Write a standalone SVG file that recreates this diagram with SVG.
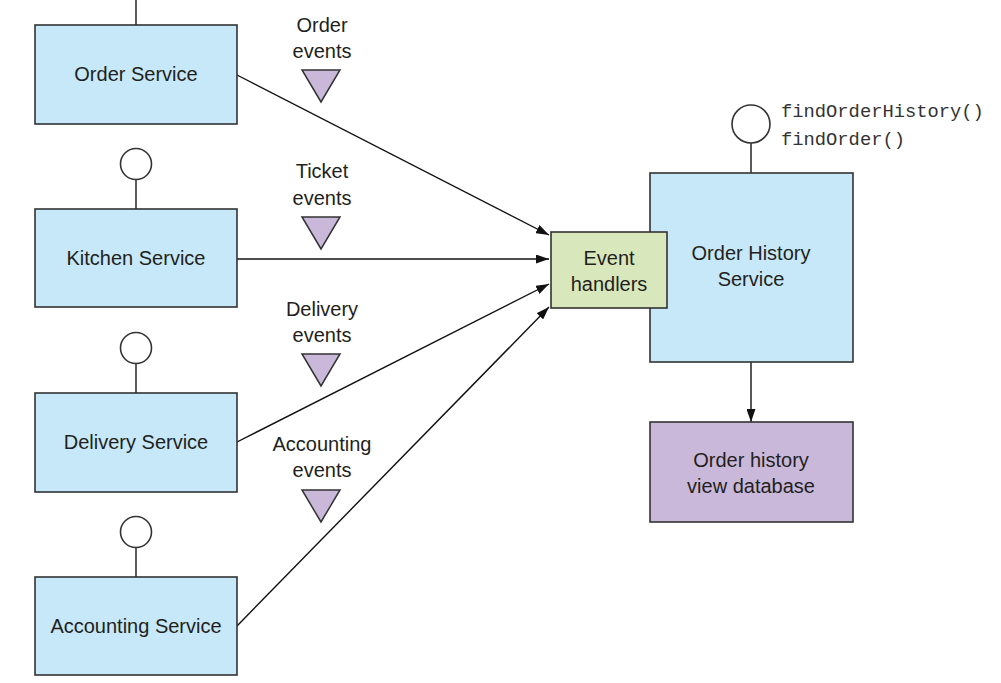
<svg xmlns="http://www.w3.org/2000/svg" width="1001" height="683" viewBox="0 0 1001 683">
<style>
.svc{fill:#c6e8f8;stroke:#333;stroke-width:1.6}
.eh{fill:#d9e7bc;stroke:#333;stroke-width:1.6}
.db{fill:#c9b8da;stroke:#333;stroke-width:1.6}
.tri{fill:#c9b8da;stroke:#333;stroke-width:1.5;stroke-linejoin:miter}
.ifc{fill:#fff;stroke:#333;stroke-width:1.6}
.stem{stroke:#333;stroke-width:1.6;fill:none}
.conn{stroke:#111;stroke-width:1.4;fill:none}
.t{font-family:"Liberation Sans",Arial,sans-serif;font-size:20px;fill:#231f20;text-anchor:middle}
.m{font-family:"Liberation Mono","Courier New",monospace;font-size:18.8px;fill:#333}
</style>
<defs>
<marker id="arr" viewBox="0 0 13 9" refX="13" refY="4.5" markerWidth="13" markerHeight="9" markerUnits="userSpaceOnUse" orient="auto">
<path d="M0,0 L13,4.5 L0,9 z" fill="#111"/>
</marker>
</defs>
<rect width="1001" height="683" fill="#fff"/>

<g id="connectors">
<line class="conn" x1="237" y1="75" x2="549" y2="235" marker-end="url(#arr)"/>
<line class="conn" x1="237" y1="259" x2="549" y2="259" marker-end="url(#arr)"/>
<line class="conn" x1="237" y1="442" x2="549" y2="284" marker-end="url(#arr)"/>
<line class="conn" x1="237" y1="626" x2="549" y2="307" marker-end="url(#arr)"/>
<line class="conn" x1="751" y1="362" x2="751" y2="422" marker-end="url(#arr)"/>
</g>

<g id="order-service">
<line class="stem" x1="136" y1="0" x2="136" y2="25"/>
<rect class="svc" x="35" y="25" width="202" height="99"/>
<text class="t" x="136" y="81">Order Service</text>
</g>

<g id="kitchen-service">
<circle class="ifc" cx="136" cy="164" r="15.5"/>
<line class="stem" x1="136" y1="179.5" x2="136" y2="209"/>
<rect class="svc" x="35" y="209" width="202" height="98"/>
<text class="t" x="136" y="265">Kitchen Service</text>
</g>

<g id="delivery-service">
<circle class="ifc" cx="136" cy="348" r="15.5"/>
<line class="stem" x1="136" y1="363.5" x2="136" y2="393"/>
<rect class="svc" x="35" y="393" width="202" height="99"/>
<text class="t" x="136" y="449">Delivery Service</text>
</g>

<g id="accounting-service">
<circle class="ifc" cx="136" cy="532" r="15.5"/>
<line class="stem" x1="136" y1="547.5" x2="136" y2="577"/>
<rect class="svc" x="35" y="577" width="202" height="98"/>
<text class="t" x="136" y="633">Accounting Service</text>
</g>

<g id="order-events">
<text class="t" x="322" y="32">Order</text>
<text class="t" x="322" y="58">events</text>
<polygon class="tri" points="302,70 340,70 321,102"/>
</g>

<g id="ticket-events">
<text class="t" x="322" y="178">Ticket</text>
<text class="t" x="322" y="205">events</text>
<polygon class="tri" points="302,217 340,217 321,249"/>
</g>

<g id="delivery-events">
<text class="t" x="322" y="316">Delivery</text>
<text class="t" x="322" y="342">events</text>
<polygon class="tri" points="302,354 340,354 321,386"/>
</g>

<g id="accounting-events">
<text class="t" x="322" y="451">Accounting</text>
<text class="t" x="322" y="477">events</text>
<polygon class="tri" points="302,490 340,490 321,522"/>
</g>

<g id="order-history-service">
<circle class="ifc" cx="751" cy="124" r="19"/>
<line class="stem" x1="751" y1="143" x2="751" y2="173"/>
<rect class="svc" x="650" y="173" width="203" height="189"/>
<text class="t" x="751" y="260">Order History</text>
<text class="t" x="751" y="286">Service</text>
<text class="m" x="781" y="117">findOrderHistory()</text>
<text class="m" x="781" y="145">findOrder()</text>
</g>

<g id="event-handlers">
<rect class="eh" x="551" y="232" width="116" height="76"/>
<text class="t" x="609" y="265">Event</text>
<text class="t" x="609" y="291">handlers</text>
</g>

<g id="order-history-db">
<rect class="db" x="650" y="422" width="203" height="100"/>
<text class="t" x="751" y="467">Order history</text>
<text class="t" x="751" y="493">view database</text>
</g>
</svg>
